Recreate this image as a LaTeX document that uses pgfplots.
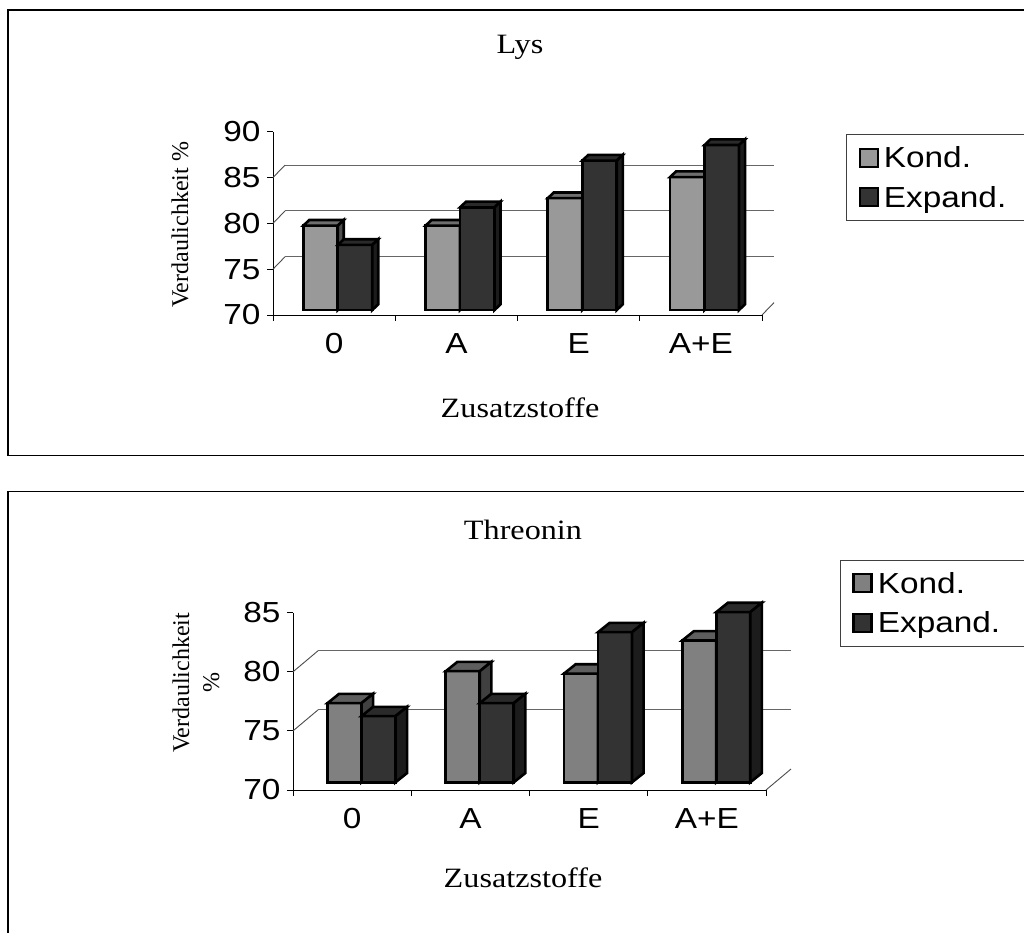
\documentclass[border=0pt]{standalone}
\usepackage{fontspec}
\setmainfont{Liberation Serif}
\setsansfont{Liberation Sans}
\usepackage{pgfplots}
\pgfplotsset{compat=1.18}

\definecolor{kfrontA}{HTML}{999999}
\definecolor{ktopA}{HTML}{6E6E6E}
\definecolor{ksideA}{HTML}{4D4D4D}
\definecolor{kfrontB}{HTML}{808080}
\definecolor{ktopB}{HTML}{5E5E5E}
\definecolor{ksideB}{HTML}{404040}
\definecolor{efront}{HTML}{333333}
\definecolor{etop}{HTML}{2A2A2A}
\definecolor{eside}{HTML}{1C1C1C}

\newcommand\tickfont{\sffamily\fontsize{29}{32}\selectfont}
\newcommand\serifbig{\rmfamily\fontsize{28}{32}\selectfont}
\newcommand\serifmid{\rmfamily\fontsize{24}{30}\selectfont}
\newcommand\wide[1]{\scalebox{1.15}[1]{#1}}

\pgfplotsset{
  chart3d/.style={
    scale only axis, clip=false,
    xmin=-0.5, xmax=3.5,
    axis x line*=bottom, axis y line*=left,
    axis line style={-, black, line width=0.9pt},
    tick align=outside,
    major tick length=6pt,
    tick style={black, line width=0.9pt},
    xtick={-0.5,0.5,1.5,2.5,3.5},
    x tick label as interval,
    xticklabels={\wide{0},\wide{A},\wide{E},\wide{A+E}},
    xticklabel style={yshift=-9pt},
    yticklabel={\wide{\pgfmathprintnumber{\tick}}},
    yticklabel style={xshift=-3pt},
    tick label style={font=\tickfont},
    /pgf/number format/assume math mode=true,
    legend image code/.code={\draw[#1] (0pt,-9pt) rectangle (18pt,9pt); \path (21pt,0pt);},
    legend style={draw=black!75, line width=1pt, font=\tickfont, anchor=north west,
      legend cell align=left, row sep=13pt, inner xsep=12pt, inner ysep=10pt},
  },
  barface/.style={draw=black, line width=2.6pt, line join=miter, forget plot},
}

% #1 category, #2 series (0 Kond., 1 Expand.), #3 value, #4 front, #5 top, #6 side colour
\newcommand\bthree[6]{%
  \pgfmathsetmacro\xL{#1+\fox+(#2-1)*\bw}%
  \pgfmathsetmacro\xR{\xL+\bw}%
  \pgfmathsetmacro\yB{70+\foy}%
  \pgfmathsetmacro\yT{#3+\foy}%
  \pgfmathsetmacro\xLd{\xL+\dpx}%
  \pgfmathsetmacro\xRd{\xR+\dpx}%
  \pgfmathsetmacro\yBd{\yB+\dpy}%
  \pgfmathsetmacro\yTd{\yT+\dpy}%
  \edef\tmp{%
    \noexpand\addplot[barface,fill=#4] coordinates {(\xL,\yB) (\xR,\yB) (\xR,\yT) (\xL,\yT)} -- cycle;
    \noexpand\addplot[barface,fill=#5] coordinates {(\xL,\yT) (\xR,\yT) (\xRd,\yTd) (\xLd,\yTd)} -- cycle;
    \noexpand\addplot[barface,fill=#6] coordinates {(\xR,\yB) (\xRd,\yBd) (\xRd,\yTd) (\xR,\yT)} -- cycle;
  }\tmp
}

\begin{document}
\begin{tikzpicture}
\useasboundingbox (0pt,0pt) rectangle (1024pt,932pt);
\fill[white] (0pt,0pt) rectangle (1024pt,932pt);

% frames
\draw[line width=1.4pt] (8pt,922pt) rectangle (1040pt,476.3pt);
\draw[line width=1.4pt] (8pt,440.3pt) rectangle (1040pt,-10pt);

% ---------------- Lys ----------------
\begin{axis}[chart3d,
  at={(273pt,617pt)}, anchor=south west,
  width=489pt, height=183.3pt,
  ymin=70, ymax=90, ytick={70,75,...,90},
  extra y ticks={75,80,85}, extra y tick labels={},
  extra y tick style={grid=major, major tick length=0pt, yticklabel={},
    major grid style={draw=black!60, line width=1pt, shift={(12pt,12.4pt)}}},
  legend style={at={(1.1718,0.98745)}},
]
\def\fox{0.03}\def\foy{0.5456}\def\dpx{0.0491}\def\dpy{0.62}\def\bw{0.2822}
\draw[black!70, line width=0.9pt] (axis cs:-0.5,75) -- ++(12pt,12.4pt);
\draw[black!70, line width=0.9pt] (axis cs:-0.5,80) -- ++(12pt,12.4pt);
\draw[black!70, line width=0.9pt] (axis cs:-0.5,85) -- ++(12pt,12.4pt);
\draw[black!70, line width=0.9pt] (axis cs:3.5,70) -- ++(12pt,12.4pt);
% Kond.: 79.2 79.2 82.2 84.5 ; Expand.: 77.1 81.2 86.3 88.0
\bthree{0}{0}{79.2}{kfrontA}{ktopA}{ksideA}
\bthree{0}{1}{77.1}{efront}{etop}{eside}
\bthree{1}{0}{79.2}{kfrontA}{ktopA}{ksideA}
\bthree{1}{1}{81.2}{efront}{etop}{eside}
\bthree{2}{0}{82.2}{kfrontA}{ktopA}{ksideA}
\bthree{2}{1}{86.3}{efront}{etop}{eside}
\bthree{3}{0}{84.5}{kfrontA}{ktopA}{ksideA}
\bthree{3}{1}{88.0}{efront}{etop}{eside}
\addlegendimage{draw=black, line width=2.4pt, fill=kfrontA}
\addlegendentry{\wide{Kond.}}
\addlegendimage{draw=black, line width=2.4pt, fill=efront}
\addlegendentry{\wide{Expand.}\hspace*{14pt}}
\end{axis}

% ---------------- Threonin ----------------
\begin{axis}[chart3d,
  at={(293pt,142pt)}, anchor=south west,
  width=473pt, height=177.3pt,
  ymin=70, ymax=85, ytick={70,75,...,85},
  extra y ticks={75,80}, extra y tick labels={},
  extra y tick style={grid=major, major tick length=0pt, yticklabel={},
    major grid style={draw=black!60, line width=1pt, shift={(25pt,21pt)}}},
  legend style={at={(1.1564,1.30)}},
]
\def\fox{0.0795}\def\foy{0.651}\def\dpx{0.098}\def\dpy{0.787}\def\bw{0.2875}
\draw[black!70, line width=0.9pt] (axis cs:-0.5,75) -- ++(25pt,21pt);
\draw[black!70, line width=0.9pt] (axis cs:-0.5,80) -- ++(25pt,21pt);
\draw[black!70, line width=0.9pt] (axis cs:3.5,70) -- ++(25pt,21pt);
% Kond.: 76.7 79.4 79.2 82.0 ; Expand.: 75.6 76.7 82.7 84.4
\bthree{0}{0}{76.7}{kfrontB}{ktopB}{ksideB}
\bthree{0}{1}{75.6}{efront}{etop}{eside}
\bthree{1}{0}{79.4}{kfrontB}{ktopB}{ksideB}
\bthree{1}{1}{76.7}{efront}{etop}{eside}
\bthree{2}{0}{79.2}{kfrontB}{ktopB}{ksideB}
\bthree{2}{1}{82.7}{efront}{etop}{eside}
\bthree{3}{0}{82.0}{kfrontB}{ktopB}{ksideB}
\bthree{3}{1}{84.4}{efront}{etop}{eside}
\addlegendimage{draw=black, line width=2.4pt, fill=kfrontB}
\addlegendentry{\wide{Kond.}}
\addlegendimage{draw=black, line width=2.4pt, fill=efront}
\addlegendentry{\wide{Expand.}\hspace*{14pt}}
\end{axis}

% titles and labels
\node[font=\serifbig] at (520pt,885pt) {\wide{Lys}};
\node[font=\serifbig] at (520pt,524pt) {\wide{Zusatzstoffe}};
\node[font=\serifmid, rotate=90] at (180pt,707pt) {Verdaulichkeit \%};
\node[font=\serifbig] at (523pt,402pt) {\wide{Threonin}};
\node[font=\serifbig] at (523pt,54pt) {\wide{Zusatzstoffe}};
\node[font=\serifmid, rotate=90, align=center] at (196pt,249pt) {Verdaulichkeit\\\%};
\end{tikzpicture}
\end{document}
